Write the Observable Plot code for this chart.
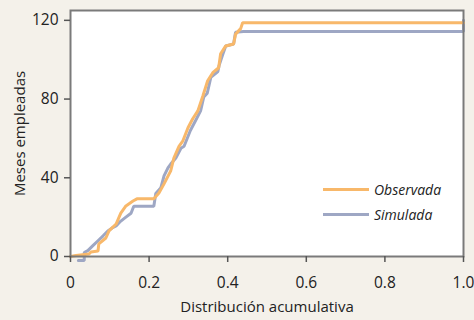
<!DOCTYPE html>
<html><head><meta charset="utf-8">
<script src="https://cdn.jsdelivr.net/npm/d3@7"></script>
<script src="https://cdn.jsdelivr.net/npm/@observablehq/plot@0.6"></script>
<style>
html,body{margin:0;padding:0;background:#f4f1ea;}
#wrap{position:relative;width:474px;height:320px;}
.leg{position:absolute;font-family:"Open Sans",sans-serif;font-style:italic;font-size:14px;color:#222;display:flex;align-items:center;}
.leg span.sw{display:inline-block;width:46px;height:3px;margin-right:5px;}
</style></head><body>
<div id="wrap"></div>
<script>
const seriesNames = ["Observada", "Simulada"];
const seriesColors = ["#f8b86a", "#9ea7c4"];
const xTicks = [0, 0.2, 0.4, 0.6, 0.8, 1.0];
const xTickLabels = ["0", "0.2", "0.4", "0.6", "0.8", "1.0"];
const yTicks = [0, 40, 80, 120];
const xLabel = "Distribución acumulativa";
const yLabel = "Meses empleadas";

const observadaX = [0,0.014,0.047,0.052,0.070,0.072,0.090,0.098,0.116,0.128,0.141,0.159,0.169,0.212,0.225,0.238,0.255,0.263,0.276,0.286,0.299,0.311,0.324,0.337,0.349,0.362,0.377,0.382,0.395,0.415,0.420,0.433,0.438,1.0];
const observadaY = [0,0.5,1.3,2.3,2.8,6.4,9.4,13,16.5,22,25.7,28.2,29.3,29.3,32.3,36.9,43.5,50,56,58.8,65.4,70,74,81.7,89.3,93.4,95.9,103,107,108,113,115.8,118.8,118.8];

const simuladaX = [0.020,0.035,0.035,0.044,0.057,0.070,0.083,0.095,0.106,0.116,0.128,0.141,0.154,0.161,0.212,0.217,0.230,0.238,0.248,0.255,0.268,0.281,0.289,0.305,0.318,0.331,0.339,0.348,0.357,0.375,0.378,0.388,0.395,0.415,0.420,0.440,1.0,1.0];
const simuladaY = [-2,-2,2,3,5.5,8,10.5,13,14.5,15.5,18,20,22,25.5,25.5,32,35,41,45,47,50,55,56,64,69,74,81,83,91,94,97,103,107,108,114,114.3,114.3,120];

const data = [];
observadaX.forEach((x,i)=>data.push({s:seriesNames[0], x, y:observadaY[i]}));
simuladaX.forEach((x,i)=>data.push({s:seriesNames[1], x, y:simuladaY[i]}));

const font = "'Open Sans', sans-serif";
const chart = Plot.plot({
  width: 474, height: 320,
  marginLeft: 70, marginRight: 11, marginTop: 10, marginBottom: 64,
  style: {background: "transparent", fontFamily: font, fontSize: "15px", color: "#222"},
  x: {domain: [0, 1]},
  y: {domain: [0, 125]},
  marks: [
    Plot.frame({fill: "white", stroke: "none"}),
    Plot.line(data.filter(d=>d.s===seriesNames[1]), {x:"x", y:"y", stroke: seriesColors[1], strokeWidth: 3, strokeLinejoin: "miter", curve: "linear"}),
    Plot.line(data.filter(d=>d.s===seriesNames[0]), {x:"x", y:"y", stroke: seriesColors[0], strokeWidth: 3, strokeLinejoin: "miter", curve: "linear"}),
    Plot.frame({stroke: "#7a7a7a", strokeWidth: 2}),
    Plot.axisX({ticks: xTicks, tickFormat: d=>xTickLabels[xTicks.indexOf(d)], tickSize: 6, stroke: "#555", strokeWidth: 1.5, tickPadding: 14, fontSize: 15.5, fill: "#222", label: null}),
    Plot.axisY({ticks: yTicks, tickSize: 6, stroke: "#555", strokeWidth: 1.5, tickPadding: 6, fontSize: 15.5, fill: "#222", label: null}),
    Plot.text([xLabel], {frameAnchor: "bottom", dy: 55, text: d=>d, fontSize: 15, fill: "#222"}),
    Plot.text([yLabel], {frameAnchor: "left", dx: -50, rotate: -90, textAnchor: "middle", text: d=>d, fontSize: 15, fill: "#222"})
  ]
});
const wrap = document.getElementById("wrap");
wrap.appendChild(chart);
seriesNames.forEach((n,i)=>{
  const el = document.createElement("div");
  el.className = "leg";
  el.style.left = "323px";
  el.style.top = (180 + i*25) + "px";
  el.innerHTML = `<span class="sw" style="background:${seriesColors[i]}"></span><span>${n}</span>`;
  wrap.appendChild(el);
});
</script>
</body></html>
